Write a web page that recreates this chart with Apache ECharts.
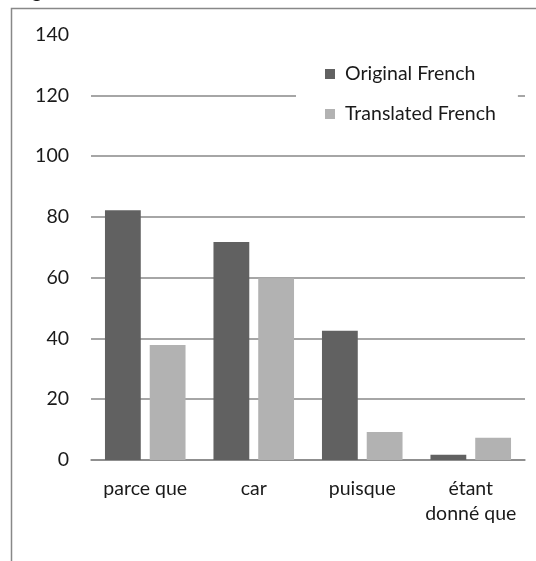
<!DOCTYPE html>
<html>
<head>
<meta charset="utf-8">
<script src="https://cdn.jsdelivr.net/npm/echarts@6/dist/echarts.min.js"></script>
<style>html,body{margin:0;padding:0;background:#fff;}#c{width:536px;height:561px;}</style>
</head>
<body>
<div id="c"></div>
<script>
const categories = ['parce que', 'car', 'puisque', 'étant\ndonné que'];
const originalFrench = [82.2, 71.7, 42.5, 1.7];
const translatedFrench = [37.8, 59.8, 9.2, 7.3];
const yTicks = [0, 20, 40, 60, 80, 100, 120, 140];

const font = 'Lato, "Open Sans", sans-serif';
const grid = '#888888';
const chart = echarts.init(document.getElementById('c'), null, {renderer: 'canvas'});
chart.setOption({
  animation: false,
  backgroundColor: '#ffffff',
  grid: {left: 91, right: 11, top: 34.5, bottom: 101, containLabel: false},
  legend: {
    orient: 'vertical',
    left: 296, top: 54,
    padding: [10, 22, 10, 29],
    backgroundColor: '#ffffff',
    itemWidth: 10, itemHeight: 10, itemGap: 20,
    icon: 'rect',
    textStyle: {fontFamily: font, fontSize: 19.5, color: '#1a1a1a', lineHeight: 16, padding: [0, 0, 0, 5]},
    data: ['Original French', 'Translated French']
  },
  xAxis: {
    type: 'category',
    data: categories,
    axisLine: {show: true, lineStyle: {color: grid, width: 1.5}},
    axisTick: {show: false},
    axisLabel: {fontFamily: font, fontSize: 19.5, color: '#1a1a1a', margin: 16, lineHeight: 25, interval: 0}
  },
  yAxis: {
    type: 'value',
    min: yTicks[0], max: yTicks[yTicks.length - 1], interval: 20,
    axisLine: {show: false},
    axisTick: {show: false},
    axisLabel: {fontFamily: font, fontSize: 19.5, color: '#1a1a1a', margin: 22},
    splitLine: {show: true, lineStyle: {color: [grid, grid, grid, grid, grid, grid, grid, 'rgba(0,0,0,0)'], width: 1.5}}
  },
  series: [
    {name: 'Original French', type: 'bar', data: originalFrench, barWidth: '33%', barGap: '25%',
     itemStyle: {color: '#616161'}},
    {name: 'Translated French', type: 'bar', data: translatedFrench, barWidth: '33%',
     itemStyle: {color: '#b2b2b2'}}
  ],
  graphic: [
    {type: 'rect', shape: {x: 11.5, y: 8.5, width: 700, height: 700}, style: {fill: 'none', stroke: '#888888', lineWidth: 1.5}, z: -1},
    {type: 'text', left: 16, top: -18, style: {text: 'Figure 3:', fontFamily: font, fontSize: 19.5, fill: '#1a1a1a'}}
  ]
});
</script>
</body>
</html>
